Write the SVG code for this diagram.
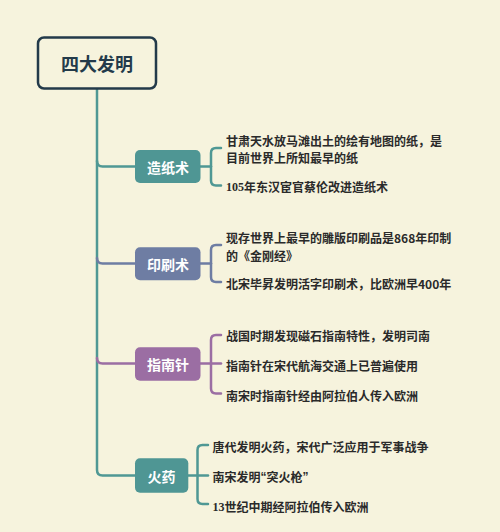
<svg xmlns="http://www.w3.org/2000/svg" width="500" height="532" viewBox="0 0 500 532">
<style>
.bg{fill:#f6f3dd}
.leaf{font-family:"Noto Sans CJK SC","Noto Sans",sans-serif;font-size:12px;font-weight:bold;fill:#2a2a2a;dominant-baseline:central}
.ser{font-family:"Liberation Serif",serif}
.san{font-family:"Liberation Sans",sans-serif}
.lbl{font-family:"Noto Sans CJK SC","Noto Sans",sans-serif;font-size:14px;font-weight:bold;fill:#ffffff;text-anchor:middle;dominant-baseline:central}
.ln{fill:none;stroke-width:2.5;stroke-linecap:round}
.teal{stroke:#4f9894}
.slate{stroke:#6e7da3}
.purple{stroke:#9b6ea3}
</style>
<rect class="bg" x="0" y="0" width="500" height="532"/>
<g id="connectors">
<path class="ln teal" d="M97,88 V470 Q97,475.5 102.5,475.5 H135"/>
<path class="ln teal" d="M97,161 Q97,166.5 102.5,166.5 H135"/>
<path class="ln slate" d="M97,258 Q97,263.5 102.5,263.5 H135"/>
<path class="ln purple" d="M97,358 Q97,363.5 102.5,363.5 H135"/>
<path class="ln teal" d="M200,166.5 H211"/>
<path class="ln teal" d="M221,148 H216 Q211,148 211,153 V180.5 Q211,185.5 216,185.5 H221"/>
<path class="ln slate" d="M200,263.5 H211"/>
<path class="ln slate" d="M221,245 H216 Q211,245 211,250 V277 Q211,282 216,282 H221"/>
<path class="ln purple" d="M200,363.5 H221"/>
<path class="ln purple" d="M221,335 H216 Q211,335 211,340 V388.5 Q211,393.5 216,393.5 H221"/>
<path class="ln teal" d="M188,475.5 H208"/>
<path class="ln teal" d="M208,445 H202.5 Q197.5,445 197.5,450 V499 Q197.5,504 202.5,504 H208"/>
</g>
<g id="root">
<rect x="38" y="37.5" width="118" height="51" rx="6" fill="#f6f3dd" stroke="#233a4a" stroke-width="2.5"/>
<text x="97" y="63" font-family="'Noto Sans CJK SC','Noto Sans',sans-serif" font-size="18" font-weight="bold" fill="#233a4a" text-anchor="middle" dominant-baseline="central">四大发明</text>
</g>
<g id="paper">
<rect x="135" y="150" width="65.5" height="33" rx="5" fill="#4f9694"/>
<text class="lbl" x="168" y="166.5">造纸术</text>
<text class="leaf" x="226" y="140.7">甘肃天水放马滩出土的绘有地图的纸，是</text>
<text class="leaf" x="226" y="157.3">目前世界上所知最早的纸</text>
<text class="leaf" x="226" y="186.7"><tspan class="ser">105</tspan>年东汉宦官蔡伦改进造纸术</text>
</g>
<g id="printing">
<rect x="135" y="247.3" width="65.5" height="33" rx="5" fill="#6e7da3"/>
<text class="lbl" x="168" y="264">印刷术</text>
<text class="leaf" x="226" y="237.3">现存世界上最早的雕版印刷品是868年印制</text>
<text class="leaf" x="226" y="255">的《金刚经》</text>
<text class="leaf" x="226" y="283.3">北宋毕昇发明活字印刷术，比欧洲早400年</text>
</g>
<g id="compass">
<rect x="135" y="347.3" width="65.5" height="33.5" rx="5" fill="#9b6ea3"/>
<text class="lbl" x="168" y="364">指南针</text>
<text class="leaf" x="226" y="335.7">战国时期发现磁石指南特性，发明司南</text>
<text class="leaf" x="226" y="365.7">指南针在宋代航海交通上已普遍使用</text>
<text class="leaf" x="226" y="395">南宋时指南针经由阿拉伯人传入欧洲</text>
</g>
<g id="gunpowder">
<rect x="135" y="458.3" width="53.3" height="34.4" rx="5" fill="#4f9694"/>
<text class="lbl" x="161.6" y="475.5">火药</text>
<text class="leaf" x="212.5" y="446">唐代发明火药，宋代广泛应用于军事战争</text>
<text class="leaf" x="212.5" y="476.7">南宋发明<tspan class="san">“</tspan>突火枪<tspan class="san">”</tspan></text>
<text class="leaf" x="212.5" y="506.7"><tspan class="ser">13</tspan>世纪中期经阿拉伯传入欧洲</text>
</g>
</svg>
